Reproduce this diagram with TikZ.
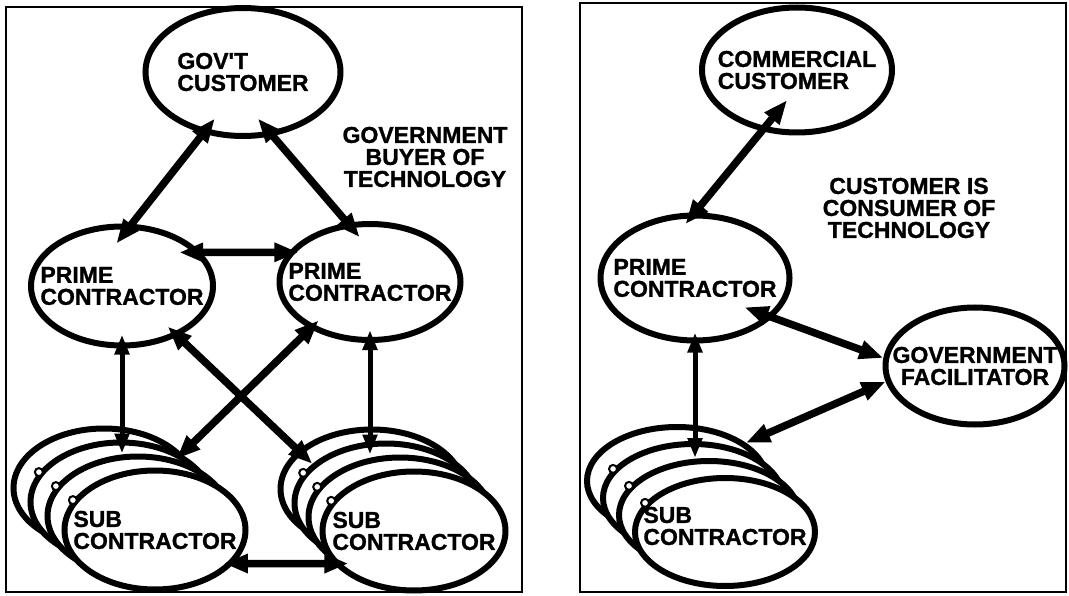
\documentclass[tikz,border=0pt]{standalone}
\usepackage{fontspec}
\setmainfont{Liberation Sans}
\newfontfamily\heavyfont{Liberation Sans Bold}[FakeBold=1.2]
\usetikzlibrary{shapes.geometric,arrows.meta}

\begin{document}
\begin{tikzpicture}[x=1pt,y=-1pt,
        bubble/.style={ellipse,draw,line width=6pt,fill=white,inner sep=0pt},
        lbl/.style={font=\heavyfont\fontsize{23}{22}\selectfont,align=left,inner sep=0pt},
        heavy/.style={line width=7.5pt,>={Triangle[length=24pt,width=18pt]},<->},
        light/.style={line width=5pt,>={Triangle[length=20pt,width=14pt]},<->},
        knob/.style={circle,draw,line width=2pt,fill=white,inner sep=0pt,minimum size=8pt}]

    % Page
    \path[fill=white,use as bounding box] (0,0) rectangle (1069,596);

    % Frames
    \draw[line width=2.5pt] (6,7) rectangle (522,592);
    \draw[line width=2.5pt] (580,3) rectangle (1066,592);

    % Government buyer
    \node[bubble,minimum width=195pt,minimum height=128pt,
          label={[lbl]center:GOV'T\\CUSTOMER}] (gov) at (243,72) {};
    \node[bubble,minimum width=182pt,minimum height=119pt,
          label={[lbl]center:PRIME\\CONTRACTOR}] (lp) at (122,286) {};
    \node[bubble,minimum width=181pt,minimum height=116pt,
          label={[lbl]center:PRIME\\CONTRACTOR}] (rp) at (370,282) {};
    \foreach \k in {3,2,1}{
        \node[bubble,minimum width=181pt,minimum height=119pt] (lsub\k) at ({155-17*\k},{530-14*\k}) {};
        \node[bubble,minimum width=183pt,minimum height=119pt] (rsub\k) at ({414-14*\k},{531-14*\k}) {};
    }
    \node[bubble,minimum width=181pt,minimum height=119pt,
          label={[lbl]center:SUB\\CONTRACTOR}] (lsub) at (155,530) {};
    \node[bubble,minimum width=183pt,minimum height=119pt,
          label={[lbl]center:SUB\\CONTRACTOR}] (rsub) at (414,531) {};
    \foreach \n in {lsub2,lsub1,lsub,rsub2,rsub1,rsub}
        \node[knob] at (\n.160) {};
    \node[lbl,align=center] (buyer) at (425,157) {GOVERNMENT\\BUYER OF\\TECHNOLOGY};

    % Commercial consumer
    \node[bubble,minimum width=190pt,minimum height=125pt,
          label={[lbl]center:COMMERCIAL\\CUSTOMER}] (cc) at (797,70) {};
    \node[bubble,minimum width=189pt,minimum height=125pt,
          label={[lbl]center:PRIME\\CONTRACTOR}] (pc) at (695,278) {};
    \node[bubble,minimum width=179pt,minimum height=117pt,
          label={[lbl,align=center]center:GOVERNMENT\\FACILITATOR}] (gf) at (975,366) {};
    \foreach \k in {3,2,1}
        \node[bubble,minimum width=180pt,minimum height=108pt] (csub\k) at ({725-16*\k},{532-17*\k}) {};
    \node[bubble,minimum width=180pt,minimum height=108pt,
          label={[lbl,yshift=6pt]center:SUB\\CONTRACTOR}] (csub) at (725,532) {};
    \foreach \n in {csub2,csub1,csub}
        \node[knob] at (\n.160) {};
    \node[lbl,align=center] (consumer) at (909,208) {CUSTOMER IS\\CONSUMER OF\\TECHNOLOGY};

    % Links
    \draw[heavy,shorten <=-19pt,shorten >=-25pt] (gov.237) -- (lp.81);
    \draw[heavy,shorten <=-23pt,shorten >=-19pt] (gov.295) -- (rp.111);
    \draw[heavy,shorten <=-22pt,shorten >=-10pt] (lp.23) -- (rp.160);
    \draw[light,shorten <=-14pt] (lp.south) -- (lp.south |- lsub1.north);
    \draw[light,shorten <=-13pt] (rp.south) -- (rp.south |- rsub1.north);
    \draw[heavy,shorten <=-12pt] (rp.218) -- (lsub1.56);
    \draw[heavy,shorten <=-14pt] (lp.318) -- (rsub2.152);
    \draw[heavy,shorten <=-10pt,shorten >=-15pt] (lsub.337) -- (rsub.202);
    \draw[heavy,shorten <=-40pt,shorten >=-15pt] (cc.240) -- (pc.90);
    \draw[heavy,shorten <=-30pt] (pc.333) -- (gf.175);
    \draw[heavy] (gf.190) -- (csub3.29);
    \draw[light,shorten <=-11pt] (pc.south) -- (pc.south |- csub1.north);
\end{tikzpicture}
\end{document}
